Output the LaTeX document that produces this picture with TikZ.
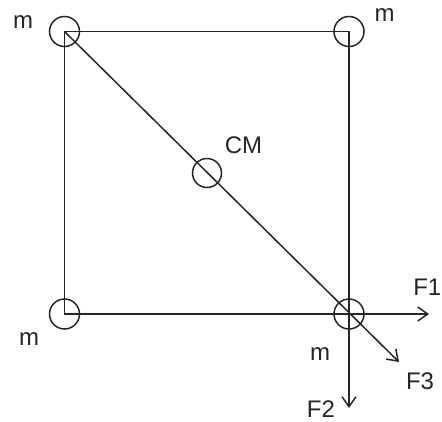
\documentclass[tikz,border=0pt]{standalone}
\usepackage{fontspec}
\setmainfont{Liberation Sans}
\usetikzlibrary{arrows.meta}
\begin{document}
\begin{tikzpicture}[x=1pt,y=-1pt,
  edge/.style={line width=1.5pt,draw=black!85},
  mass/.style={circle,draw=black!85,line width=1.5pt,minimum size=30pt,inner sep=0pt},
  lbl/.style={anchor=base,inner sep=0pt,font=\fontsize{24}{28}\selectfont,text=black!85},
  force/.style={edge,-{Straight Barb[length=10pt,width=14pt,line width=1.5pt]}}]
\useasboundingbox (0,0) rectangle (442,421);
\coordinate (A) at (64.5,31.5);
\coordinate (B) at (349,31.5);
\coordinate (C) at (64.5,314);
\coordinate (D) at (349,314);
\coordinate (f1) at (429,314);
\coordinate (f2) at (349,408);
\coordinate (f3) at (399,362);
\draw[edge] (A) -- (B) -- (D) -- (C) -- cycle;
\node[mass] (m1) at (A) {};
\node[mass] (m2) at (B) {};
\node[mass] (m3) at (C) {};
\node[mass] (m4) at (D) {};
\node[mass,minimum size=29pt] (cm) at (207,173) {};
\draw[force] (A) -- (f3);
\draw[force] (D) -- (f1);
\draw[force] (D) -- (f2);
\node[lbl] (l1) at (23,28) {m};
\node[lbl] (l2) at (384.5,21) {m};
\node[lbl] (l3) at (29,345) {m};
\node[lbl] (l4) at (320,360) {m};
\node[lbl] (lcm) at (243.5,153) {CM};
\node[lbl,anchor=base east] (lf1) at (441.5,295) {F1};
\node[lbl] (lf3) at (420,389) {F3};
\node[lbl] (lf2) at (321,417) {F2};
\end{tikzpicture}
\end{document}
